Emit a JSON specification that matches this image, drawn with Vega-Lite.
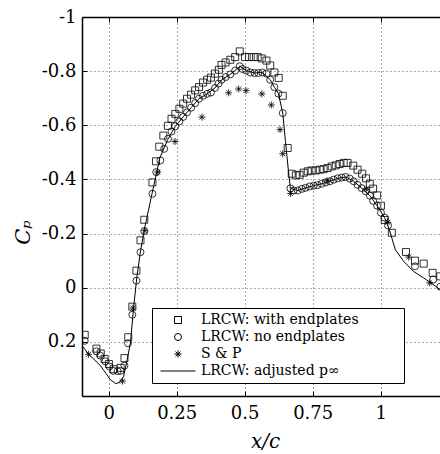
{
  "$schema": "https://vega.github.io/schema/vega-lite/v6.json",
  "width": 358,
  "height": 379,
  "autosize": {"type": "none"},
  "padding": {"left": 82, "top": 17, "right": 0, "bottom": 58},
  "background": "white",
  "config": {
    "view": {"stroke": null},
    "font": "DejaVu Serif",
    "axis": {
      "domainColor": "black", "domainWidth": 1.5,
      "tickColor": "black", "tickSize": -5, "tickWidth": 1,
      "labelColor": "black", "labelFont": "DejaVu Serif", "labelFontSize": 18,
      "gridColor": "#555555", "gridDash": [1, 3], "gridWidth": 1,
      "titleColor": "black", "titleFont": "DejaVu Serif", "titleFontWeight": "normal", "titleFontStyle": "italic"
    },
    "legend": {
      "labelFont": "DejaVu Serif", "labelFontSize": 14, "rowPadding": 3, "padding": 5,
      "labelLimit": 500, "symbolOffset": 14, "labelOffset": 16,
      "strokeColor": "black", "fillColor": "white", "labelColor": "black",
      "symbolSize": 49, "symbolStrokeColor": "black", "symbolFillColor": "transparent", "symbolStrokeWidth": 1
    }
  },
  "datasets": {
    "pts": [
      {"series": "LRCW: with endplates", "x": -0.088, "y": 0.174},
      {"series": "LRCW: with endplates", "x": -0.045, "y": 0.225},
      {"series": "LRCW: with endplates", "x": -0.029, "y": 0.243},
      {"series": "LRCW: with endplates", "x": -0.015, "y": 0.263},
      {"series": "LRCW: with endplates", "x": 0.001, "y": 0.282},
      {"series": "LRCW: with endplates", "x": 0.018, "y": 0.301},
      {"series": "LRCW: with endplates", "x": 0.044, "y": 0.296},
      {"series": "LRCW: with endplates", "x": 0.058, "y": 0.260},
      {"series": "LRCW: with endplates", "x": 0.072, "y": 0.183},
      {"series": "LRCW: with endplates", "x": 0.087, "y": 0.070},
      {"series": "LRCW: with endplates", "x": 0.102, "y": -0.063},
      {"series": "LRCW: with endplates", "x": 0.117, "y": -0.175},
      {"series": "LRCW: with endplates", "x": 0.131, "y": -0.251},
      {"series": "LRCW: with endplates", "x": 0.161, "y": -0.389},
      {"series": "LRCW: with endplates", "x": 0.174, "y": -0.467},
      {"series": "LRCW: with endplates", "x": 0.186, "y": -0.521},
      {"series": "LRCW: with endplates", "x": 0.201, "y": -0.562},
      {"series": "LRCW: with endplates", "x": 0.218, "y": -0.598},
      {"series": "LRCW: with endplates", "x": 0.231, "y": -0.624},
      {"series": "LRCW: with endplates", "x": 0.245, "y": -0.642},
      {"series": "LRCW: with endplates", "x": 0.260, "y": -0.661},
      {"series": "LRCW: with endplates", "x": 0.274, "y": -0.680},
      {"series": "LRCW: with endplates", "x": 0.288, "y": -0.698},
      {"series": "LRCW: with endplates", "x": 0.303, "y": -0.713},
      {"series": "LRCW: with endplates", "x": 0.318, "y": -0.729},
      {"series": "LRCW: with endplates", "x": 0.332, "y": -0.741},
      {"series": "LRCW: with endplates", "x": 0.347, "y": -0.758},
      {"series": "LRCW: with endplates", "x": 0.362, "y": -0.768},
      {"series": "LRCW: with endplates", "x": 0.376, "y": -0.776},
      {"series": "LRCW: with endplates", "x": 0.391, "y": -0.791},
      {"series": "LRCW: with endplates", "x": 0.405, "y": -0.805},
      {"series": "LRCW: with endplates", "x": 0.415, "y": -0.823},
      {"series": "LRCW: with endplates", "x": 0.430, "y": -0.832},
      {"series": "LRCW: with endplates", "x": 0.447, "y": -0.842},
      {"series": "LRCW: with endplates", "x": 0.465, "y": -0.852},
      {"series": "LRCW: with endplates", "x": 0.482, "y": -0.873},
      {"series": "LRCW: with endplates", "x": 0.501, "y": -0.852},
      {"series": "LRCW: with endplates", "x": 0.516, "y": -0.852},
      {"series": "LRCW: with endplates", "x": 0.533, "y": -0.852},
      {"series": "LRCW: with endplates", "x": 0.548, "y": -0.852},
      {"series": "LRCW: with endplates", "x": 0.563, "y": -0.847},
      {"series": "LRCW: with endplates", "x": 0.580, "y": -0.839},
      {"series": "LRCW: with endplates", "x": 0.594, "y": -0.821},
      {"series": "LRCW: with endplates", "x": 0.609, "y": -0.795},
      {"series": "LRCW: with endplates", "x": 0.625, "y": -0.775},
      {"series": "LRCW: with endplates", "x": 0.640, "y": -0.709},
      {"series": "LRCW: with endplates", "x": 0.658, "y": -0.516},
      {"series": "LRCW: with endplates", "x": 0.673, "y": -0.421},
      {"series": "LRCW: with endplates", "x": 0.688, "y": -0.415},
      {"series": "LRCW: with endplates", "x": 0.702, "y": -0.417},
      {"series": "LRCW: with endplates", "x": 0.717, "y": -0.425},
      {"series": "LRCW: with endplates", "x": 0.732, "y": -0.430},
      {"series": "LRCW: with endplates", "x": 0.746, "y": -0.433},
      {"series": "LRCW: with endplates", "x": 0.761, "y": -0.433},
      {"series": "LRCW: with endplates", "x": 0.776, "y": -0.436},
      {"series": "LRCW: with endplates", "x": 0.790, "y": -0.438},
      {"series": "LRCW: with endplates", "x": 0.805, "y": -0.442},
      {"series": "LRCW: with endplates", "x": 0.820, "y": -0.448},
      {"series": "LRCW: with endplates", "x": 0.835, "y": -0.452},
      {"series": "LRCW: with endplates", "x": 0.849, "y": -0.457},
      {"series": "LRCW: with endplates", "x": 0.864, "y": -0.461},
      {"series": "LRCW: with endplates", "x": 0.878, "y": -0.461},
      {"series": "LRCW: with endplates", "x": 0.899, "y": -0.451},
      {"series": "LRCW: with endplates", "x": 0.915, "y": -0.436},
      {"series": "LRCW: with endplates", "x": 0.932, "y": -0.421},
      {"series": "LRCW: with endplates", "x": 0.946, "y": -0.404},
      {"series": "LRCW: with endplates", "x": 0.960, "y": -0.384},
      {"series": "LRCW: with endplates", "x": 0.972, "y": -0.366},
      {"series": "LRCW: with endplates", "x": 0.987, "y": -0.341},
      {"series": "LRCW: with endplates", "x": 1.001, "y": -0.303},
      {"series": "LRCW: with endplates", "x": 1.015, "y": -0.250},
      {"series": "LRCW: with endplates", "x": 1.041, "y": -0.203},
      {"series": "LRCW: with endplates", "x": 1.093, "y": -0.132},
      {"series": "LRCW: with endplates", "x": 1.126, "y": -0.100},
      {"series": "LRCW: with endplates", "x": 1.158, "y": -0.089},
      {"series": "LRCW: with endplates", "x": 1.191, "y": -0.055},
      {"series": "LRCW: with endplates", "x": 1.219, "y": -0.042},

      {"series": "LRCW: no endplates", "x": -0.088, "y": 0.196},
      {"series": "LRCW: no endplates", "x": -0.045, "y": 0.235},
      {"series": "LRCW: no endplates", "x": -0.031, "y": 0.251},
      {"series": "LRCW: no endplates", "x": -0.012, "y": 0.272},
      {"series": "LRCW: no endplates", "x": 0.003, "y": 0.291},
      {"series": "LRCW: no endplates", "x": 0.017, "y": 0.307},
      {"series": "LRCW: no endplates", "x": 0.033, "y": 0.308},
      {"series": "LRCW: no endplates", "x": 0.044, "y": 0.307},
      {"series": "LRCW: no endplates", "x": 0.058, "y": 0.288},
      {"series": "LRCW: no endplates", "x": 0.071, "y": 0.205},
      {"series": "LRCW: no endplates", "x": 0.087, "y": 0.100},
      {"series": "LRCW: no endplates", "x": 0.102, "y": -0.026},
      {"series": "LRCW: no endplates", "x": 0.117, "y": -0.131},
      {"series": "LRCW: no endplates", "x": 0.131, "y": -0.209},
      {"series": "LRCW: no endplates", "x": 0.161, "y": -0.347},
      {"series": "LRCW: no endplates", "x": 0.175, "y": -0.427},
      {"series": "LRCW: no endplates", "x": 0.190, "y": -0.470},
      {"series": "LRCW: no endplates", "x": 0.204, "y": -0.513},
      {"series": "LRCW: no endplates", "x": 0.218, "y": -0.550},
      {"series": "LRCW: no endplates", "x": 0.231, "y": -0.577},
      {"series": "LRCW: no endplates", "x": 0.245, "y": -0.596},
      {"series": "LRCW: no endplates", "x": 0.260, "y": -0.614},
      {"series": "LRCW: no endplates", "x": 0.274, "y": -0.631},
      {"series": "LRCW: no endplates", "x": 0.288, "y": -0.648},
      {"series": "LRCW: no endplates", "x": 0.303, "y": -0.665},
      {"series": "LRCW: no endplates", "x": 0.318, "y": -0.682},
      {"series": "LRCW: no endplates", "x": 0.332, "y": -0.698},
      {"series": "LRCW: no endplates", "x": 0.347, "y": -0.709},
      {"series": "LRCW: no endplates", "x": 0.362, "y": -0.716},
      {"series": "LRCW: no endplates", "x": 0.376, "y": -0.721},
      {"series": "LRCW: no endplates", "x": 0.391, "y": -0.738},
      {"series": "LRCW: no endplates", "x": 0.404, "y": -0.754},
      {"series": "LRCW: no endplates", "x": 0.415, "y": -0.768},
      {"series": "LRCW: no endplates", "x": 0.430, "y": -0.778},
      {"series": "LRCW: no endplates", "x": 0.447, "y": -0.788},
      {"series": "LRCW: no endplates", "x": 0.465, "y": -0.802},
      {"series": "LRCW: no endplates", "x": 0.482, "y": -0.818},
      {"series": "LRCW: no endplates", "x": 0.492, "y": -0.808},
      {"series": "LRCW: no endplates", "x": 0.506, "y": -0.802},
      {"series": "LRCW: no endplates", "x": 0.521, "y": -0.795},
      {"series": "LRCW: no endplates", "x": 0.536, "y": -0.793},
      {"series": "LRCW: no endplates", "x": 0.550, "y": -0.793},
      {"series": "LRCW: no endplates", "x": 0.565, "y": -0.795},
      {"series": "LRCW: no endplates", "x": 0.580, "y": -0.791},
      {"series": "LRCW: no endplates", "x": 0.594, "y": -0.768},
      {"series": "LRCW: no endplates", "x": 0.609, "y": -0.741},
      {"series": "LRCW: no endplates", "x": 0.624, "y": -0.717},
      {"series": "LRCW: no endplates", "x": 0.640, "y": -0.645},
      {"series": "LRCW: no endplates", "x": 0.668, "y": -0.367},
      {"series": "LRCW: no endplates", "x": 0.680, "y": -0.359},
      {"series": "LRCW: no endplates", "x": 0.695, "y": -0.359},
      {"series": "LRCW: no endplates", "x": 0.710, "y": -0.365},
      {"series": "LRCW: no endplates", "x": 0.724, "y": -0.369},
      {"series": "LRCW: no endplates", "x": 0.739, "y": -0.374},
      {"series": "LRCW: no endplates", "x": 0.754, "y": -0.377},
      {"series": "LRCW: no endplates", "x": 0.768, "y": -0.379},
      {"series": "LRCW: no endplates", "x": 0.783, "y": -0.384},
      {"series": "LRCW: no endplates", "x": 0.798, "y": -0.389},
      {"series": "LRCW: no endplates", "x": 0.813, "y": -0.393},
      {"series": "LRCW: no endplates", "x": 0.827, "y": -0.399},
      {"series": "LRCW: no endplates", "x": 0.842, "y": -0.404},
      {"series": "LRCW: no endplates", "x": 0.857, "y": -0.407},
      {"series": "LRCW: no endplates", "x": 0.871, "y": -0.409},
      {"series": "LRCW: no endplates", "x": 0.886, "y": -0.403},
      {"series": "LRCW: no endplates", "x": 0.901, "y": -0.393},
      {"series": "LRCW: no endplates", "x": 0.915, "y": -0.380},
      {"series": "LRCW: no endplates", "x": 0.930, "y": -0.368},
      {"series": "LRCW: no endplates", "x": 0.945, "y": -0.356},
      {"series": "LRCW: no endplates", "x": 0.960, "y": -0.340},
      {"series": "LRCW: no endplates", "x": 0.972, "y": -0.321},
      {"series": "LRCW: no endplates", "x": 0.987, "y": -0.303},
      {"series": "LRCW: no endplates", "x": 1.001, "y": -0.277},
      {"series": "LRCW: no endplates", "x": 1.014, "y": -0.259},
      {"series": "LRCW: no endplates", "x": 1.027, "y": -0.230},
      {"series": "LRCW: no endplates", "x": 1.126, "y": -0.079},
      {"series": "LRCW: no endplates", "x": 1.193, "y": -0.030},
      {"series": "LRCW: no endplates", "x": 1.219, "y": -0.004},

      {"series": "S & P", "x": -0.074, "y": 0.246},
      {"series": "S & P", "x": 0.051, "y": 0.345},
      {"series": "S & P", "x": 0.089, "y": 0.075},
      {"series": "S & P", "x": 0.133, "y": -0.211},
      {"series": "S & P", "x": 0.180, "y": -0.427},
      {"series": "S & P", "x": 0.244, "y": -0.540},
      {"series": "S & P", "x": 0.343, "y": -0.630},
      {"series": "S & P", "x": 0.441, "y": -0.720},
      {"series": "S & P", "x": 0.478, "y": -0.734},
      {"series": "S & P", "x": 0.505, "y": -0.728},
      {"series": "S & P", "x": 0.563, "y": -0.716},
      {"series": "S & P", "x": 0.598, "y": -0.675},
      {"series": "S & P", "x": 0.630, "y": -0.584},
      {"series": "S & P", "x": 0.640, "y": -0.495},
      {"series": "S & P", "x": 0.669, "y": -0.348},
      {"series": "S & P", "x": 0.803, "y": -0.395},
      {"series": "S & P", "x": 0.947, "y": -0.364},
      {"series": "S & P", "x": 1.026, "y": -0.242},
      {"series": "S & P", "x": 1.103, "y": -0.113},
      {"series": "S & P", "x": 1.180, "y": -0.018},

      {"series": "LRCW: adjusted p∞", "x": -0.098, "y": 0.214},
      {"series": "LRCW: adjusted p∞", "x": -0.074, "y": 0.245},
      {"series": "LRCW: adjusted p∞", "x": -0.031, "y": 0.287},
      {"series": "LRCW: adjusted p∞", "x": 0.006, "y": 0.339},
      {"series": "LRCW: adjusted p∞", "x": 0.025, "y": 0.354},
      {"series": "LRCW: adjusted p∞", "x": 0.040, "y": 0.350},
      {"series": "LRCW: adjusted p∞", "x": 0.055, "y": 0.328},
      {"series": "LRCW: adjusted p∞", "x": 0.068, "y": 0.266},
      {"series": "LRCW: adjusted p∞", "x": 0.080, "y": 0.204},
      {"series": "LRCW: adjusted p∞", "x": 0.092, "y": 0.071},
      {"series": "LRCW: adjusted p∞", "x": 0.104, "y": -0.042},
      {"series": "LRCW: adjusted p∞", "x": 0.117, "y": -0.134},
      {"series": "LRCW: adjusted p∞", "x": 0.131, "y": -0.214},
      {"series": "LRCW: adjusted p∞", "x": 0.160, "y": -0.350},
      {"series": "LRCW: adjusted p∞", "x": 0.188, "y": -0.479},
      {"series": "LRCW: adjusted p∞", "x": 0.217, "y": -0.547},
      {"series": "LRCW: adjusted p∞", "x": 0.245, "y": -0.596},
      {"series": "LRCW: adjusted p∞", "x": 0.274, "y": -0.631},
      {"series": "LRCW: adjusted p∞", "x": 0.303, "y": -0.665},
      {"series": "LRCW: adjusted p∞", "x": 0.332, "y": -0.698},
      {"series": "LRCW: adjusted p∞", "x": 0.362, "y": -0.716},
      {"series": "LRCW: adjusted p∞", "x": 0.391, "y": -0.738},
      {"series": "LRCW: adjusted p∞", "x": 0.415, "y": -0.768},
      {"series": "LRCW: adjusted p∞", "x": 0.447, "y": -0.788},
      {"series": "LRCW: adjusted p∞", "x": 0.482, "y": -0.818},
      {"series": "LRCW: adjusted p∞", "x": 0.506, "y": -0.802},
      {"series": "LRCW: adjusted p∞", "x": 0.536, "y": -0.793},
      {"series": "LRCW: adjusted p∞", "x": 0.565, "y": -0.795},
      {"series": "LRCW: adjusted p∞", "x": 0.594, "y": -0.768},
      {"series": "LRCW: adjusted p∞", "x": 0.609, "y": -0.741},
      {"series": "LRCW: adjusted p∞", "x": 0.624, "y": -0.717},
      {"series": "LRCW: adjusted p∞", "x": 0.640, "y": -0.645},
      {"series": "LRCW: adjusted p∞", "x": 0.650, "y": -0.540},
      {"series": "LRCW: adjusted p∞", "x": 0.662, "y": -0.420},
      {"series": "LRCW: adjusted p∞", "x": 0.668, "y": -0.367},
      {"series": "LRCW: adjusted p∞", "x": 0.695, "y": -0.359},
      {"series": "LRCW: adjusted p∞", "x": 0.724, "y": -0.369},
      {"series": "LRCW: adjusted p∞", "x": 0.754, "y": -0.377},
      {"series": "LRCW: adjusted p∞", "x": 0.783, "y": -0.384},
      {"series": "LRCW: adjusted p∞", "x": 0.813, "y": -0.393},
      {"series": "LRCW: adjusted p∞", "x": 0.842, "y": -0.404},
      {"series": "LRCW: adjusted p∞", "x": 0.871, "y": -0.409},
      {"series": "LRCW: adjusted p∞", "x": 0.901, "y": -0.393},
      {"series": "LRCW: adjusted p∞", "x": 0.930, "y": -0.368},
      {"series": "LRCW: adjusted p∞", "x": 0.960, "y": -0.340},
      {"series": "LRCW: adjusted p∞", "x": 0.987, "y": -0.303},
      {"series": "LRCW: adjusted p∞", "x": 1.014, "y": -0.259},
      {"series": "LRCW: adjusted p∞", "x": 1.030, "y": -0.220},
      {"series": "LRCW: adjusted p∞", "x": 1.054, "y": -0.140},
      {"series": "LRCW: adjusted p∞", "x": 1.085, "y": -0.097},
      {"series": "LRCW: adjusted p∞", "x": 1.121, "y": -0.060},
      {"series": "LRCW: adjusted p∞", "x": 1.158, "y": -0.036},
      {"series": "LRCW: adjusted p∞", "x": 1.180, "y": -0.021},
      {"series": "LRCW: adjusted p∞", "x": 1.219, "y": 0.007}
    ]
  },
  "data": {"name": "pts"},
  "layer": [
    {
      "transform": [{"filter": "datum.series != 'LRCW: adjusted p∞'"}],
      "mark": {"type": "point", "filled": false, "color": "black", "strokeWidth": 0.8, "size": 49, "opacity": 1, "clip": true},
      "encoding": {
        "x": {
          "field": "x", "type": "quantitative",
          "scale": {"domain": [-0.098, 1.218], "nice": false, "zero": false},
          "axis": {
            "orient": "bottom", "values": [0, 0.25, 0.5, 0.75, 1], "format": "~g",
            "labelPadding": 13, "grid": true, "title": "x/c", "titleFontSize": 20,
            "titleX": 183, "titleY": 51, "titleAlign": "center", "titleBaseline": "alphabetic"
          }
        },
        "y": {
          "field": "y", "type": "quantitative",
          "scale": {"domain": [-1, 0.4], "reverse": true, "nice": false, "zero": false},
          "axis": {
            "orient": "left", "values": [-1, -0.8, -0.6, -0.4, -0.2, 0, 0.2],
            "labelExpr": "replace(format(datum.value, '.1~f'), '\u2212', '-')",
            "labelPadding": 11, "grid": true, "title": "Cₚ", "titleFontSize": 21,
            "titleAngle": -90, "titleX": -53, "titleY": 215, "titleAlign": "center", "titleBaseline": "alphabetic"
          }
        },
        "shape": {
          "field": "series", "type": "nominal",
          "scale": {
            "domain": ["LRCW: with endplates", "LRCW: no endplates", "S & P", "LRCW: adjusted p∞"],
            "range": ["square", "circle", "M0,-1L0,1M-1,0L1,0M-0.7,-0.7L0.7,0.7M-0.7,0.7L0.7,-0.7", "M-5,0L5,0"]
          },
          "legend": {
            "orient": "none", "legendX": 70, "legendY": 291, "title": null,
            "labelExpr": "datum.label == 'LRCW: with endplates' ? datum.label + '         \u200b' : datum.label"
          }
        }
      }
    },
    {
      "transform": [{"filter": "datum.series == 'LRCW: adjusted p∞'"}],
      "mark": {"type": "line", "color": "black", "strokeWidth": 1, "clip": true},
      "encoding": {
        "x": {
          "field": "x", "type": "quantitative",
          "axis": {"orient": "top", "values": [0, 0.25, 0.5, 0.75, 1], "labels": false, "grid": false, "title": null}
        },
        "y": {"field": "y", "type": "quantitative"}
      }
    }
  ],
  "resolve": {"axis": {"x": "independent"}}
}
